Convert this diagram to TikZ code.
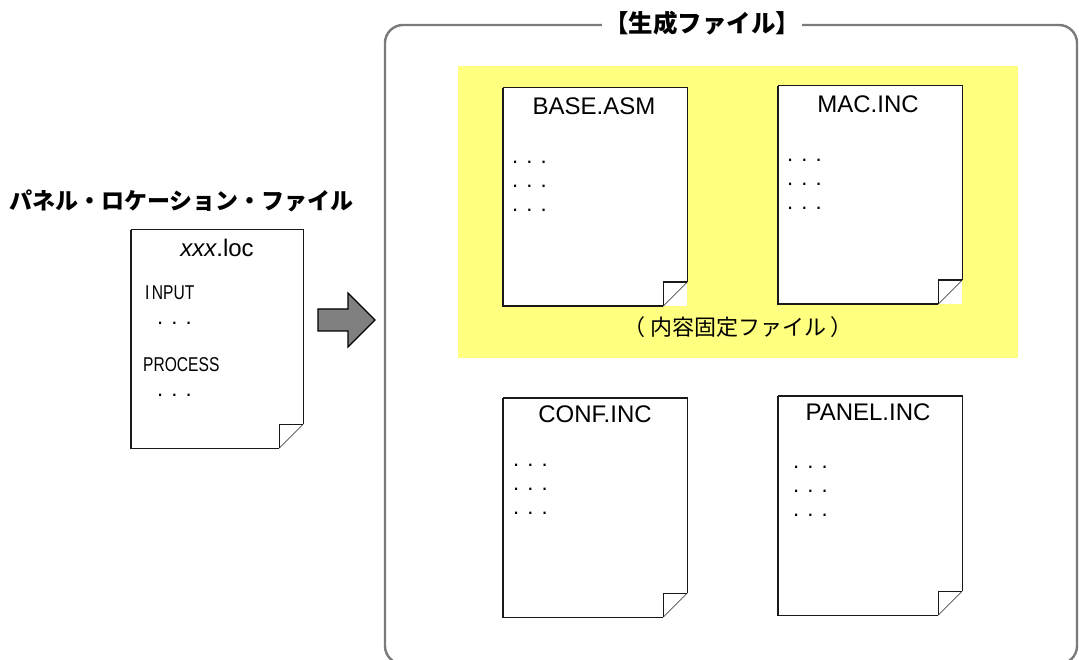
\documentclass[tikz,border=0pt]{standalone}
\usepackage{fontspec}
\setmainfont{Liberation Sans}
\newfontfamily\jp{Noto Sans CJK JP}
\usetikzlibrary{calc}
\definecolor{framegray}{HTML}{7A7A7A}
\definecolor{hiyellow}{HTML}{FFFF80}
\definecolor{arrowgray}{HTML}{808080}
\tikzset{
  docnode/.style={draw=none, fill=white, inner sep=0pt},
  docline/.style={draw=black!90, line width=1.4pt, line join=miter},
  foldline/.style={draw=black!70, line width=0.8pt},
  lbl/.style={inner sep=0pt, font=\fontsize{24}{26}\selectfont},
  dots/.style={inner sep=0pt, anchor=west, font=\fontsize{22}{24}\selectfont},
  narrow/.style={inner sep=0pt, anchor=west, font=\fontsize{20}{22}\selectfont, xscale=0.78},
  jptitle/.style={inner sep=0pt, font=\fontsize{23}{25}\selectfont\jp\bfseries},
}
\newcommand\drawdoc[1]{%
  \fill[white] (#1.north west) -- (#1.north east) -- ([yshift=24pt]#1.south east)
     -- ([xshift=-24pt]#1.south east) -- (#1.south west) -- cycle;
  \draw[docline] (#1.north west) -- (#1.north east) -- ([yshift=24pt]#1.south east);
  \draw[foldline] ([yshift=24pt]#1.south east) -- ([xshift=-24pt]#1.south east);
  \draw[docline] ([xshift=-24pt]#1.south east) -- (#1.south west) -- (#1.north west);
  \draw[docline] ([yshift=24pt]#1.south east) -- ([xshift=-24pt,yshift=24pt]#1.south east) -- ([xshift=-24pt]#1.south east);
}
\begin{document}
\begin{tikzpicture}[x=1pt,y=-1pt]
\useasboundingbox (0,0) rectangle (1079,660);
\begin{scope}
\clip (0,0) rectangle (1079,660);
% frame
\draw[framegray, line width=2.4pt, rounded corners=18pt] (385,25) rectangle (1077,664);
\node[jptitle, font=\fontsize{24.5}{26}\selectfont\jp\bfseries, fill=white, inner xsep=2pt, inner ysep=2pt] (gen) at (702,23) {【生成ファイル】};
% yellow area
\fill[hiyellow] (458,66) rectangle (1018,358);
\end{scope}

% left title
\node[jptitle, anchor=west] (plf) at (9,201) {パネル・ロケーション・ファイル};

% xxx.loc document
\node[docnode, minimum width=172pt, minimum height=218pt] (loc) at (217,339) {};
\drawdoc{loc}
\node[lbl] (locname) at (217,248) {\itshape xxx\upshape.loc};
\node[narrow] (input) at (145,293) {I\kern3pt NPUT};
\node[dots] (locd1) at (157,323) {. . .};
\node[narrow] (process) at (143,365) {PROCESS};
\node[dots] (locd2) at (157,395) {. . .};

% big arrow
\draw[fill=arrowgray, draw=black, line width=1.2pt, line join=miter]
  (318,309) -- (348,309) -- (348,293) -- (375,320) -- (348,347) -- (348,331) -- (318,331) -- cycle;
\coordinate (arrowtip) at (375,320);

% BASE.ASM
\node[docnode, minimum width=184pt, minimum height=218pt] (base) at (595,197) {};
\drawdoc{base}
\node[lbl] (basename) at (594,106) {BASE.ASM};
\node[dots] (based1) at (512,162) {. . .};
\node[dots] (based2) at (512,186) {. . .};
\node[dots] (based3) at (512,210) {. . .};

% MAC.INC
\node[docnode, minimum width=184pt, minimum height=218pt] (mac) at (870,195) {};
\drawdoc{mac}
\node[lbl] (macname) at (868,104) {MAC.INC};
\node[dots] (macd1) at (787,160) {. . .};
\node[dots] (macd2) at (787,184) {. . .};
\node[dots] (macd3) at (787,208) {. . .};

% fixed-content caption
\node[inner sep=0pt, font=\fontsize{22}{24}\selectfont\jp] (fixed) at (738,327) {（\kern5pt 内容固定ファイル\kern5pt ）};

% CONF.INC
\node[docnode, minimum width=184pt, minimum height=219pt] (conf) at (595,507.5) {};
\drawdoc{conf}
\node[lbl] (confname) at (595,414) {CONF.INC};
\node[dots] (confd1) at (513,465) {. . .};
\node[dots] (confd2) at (513,489) {. . .};
\node[dots] (confd3) at (513,513) {. . .};

% PANEL.INC
\node[docnode, minimum width=184pt, minimum height=219pt] (panel) at (870,505.5) {};
\drawdoc{panel}
\node[lbl] (panelname) at (868,412) {PANEL.INC};
\node[dots] (paneld1) at (793,467) {. . .};
\node[dots] (paneld2) at (793,491) {. . .};
\node[dots] (paneld3) at (793,515) {. . .};
\end{tikzpicture}
\end{document}
